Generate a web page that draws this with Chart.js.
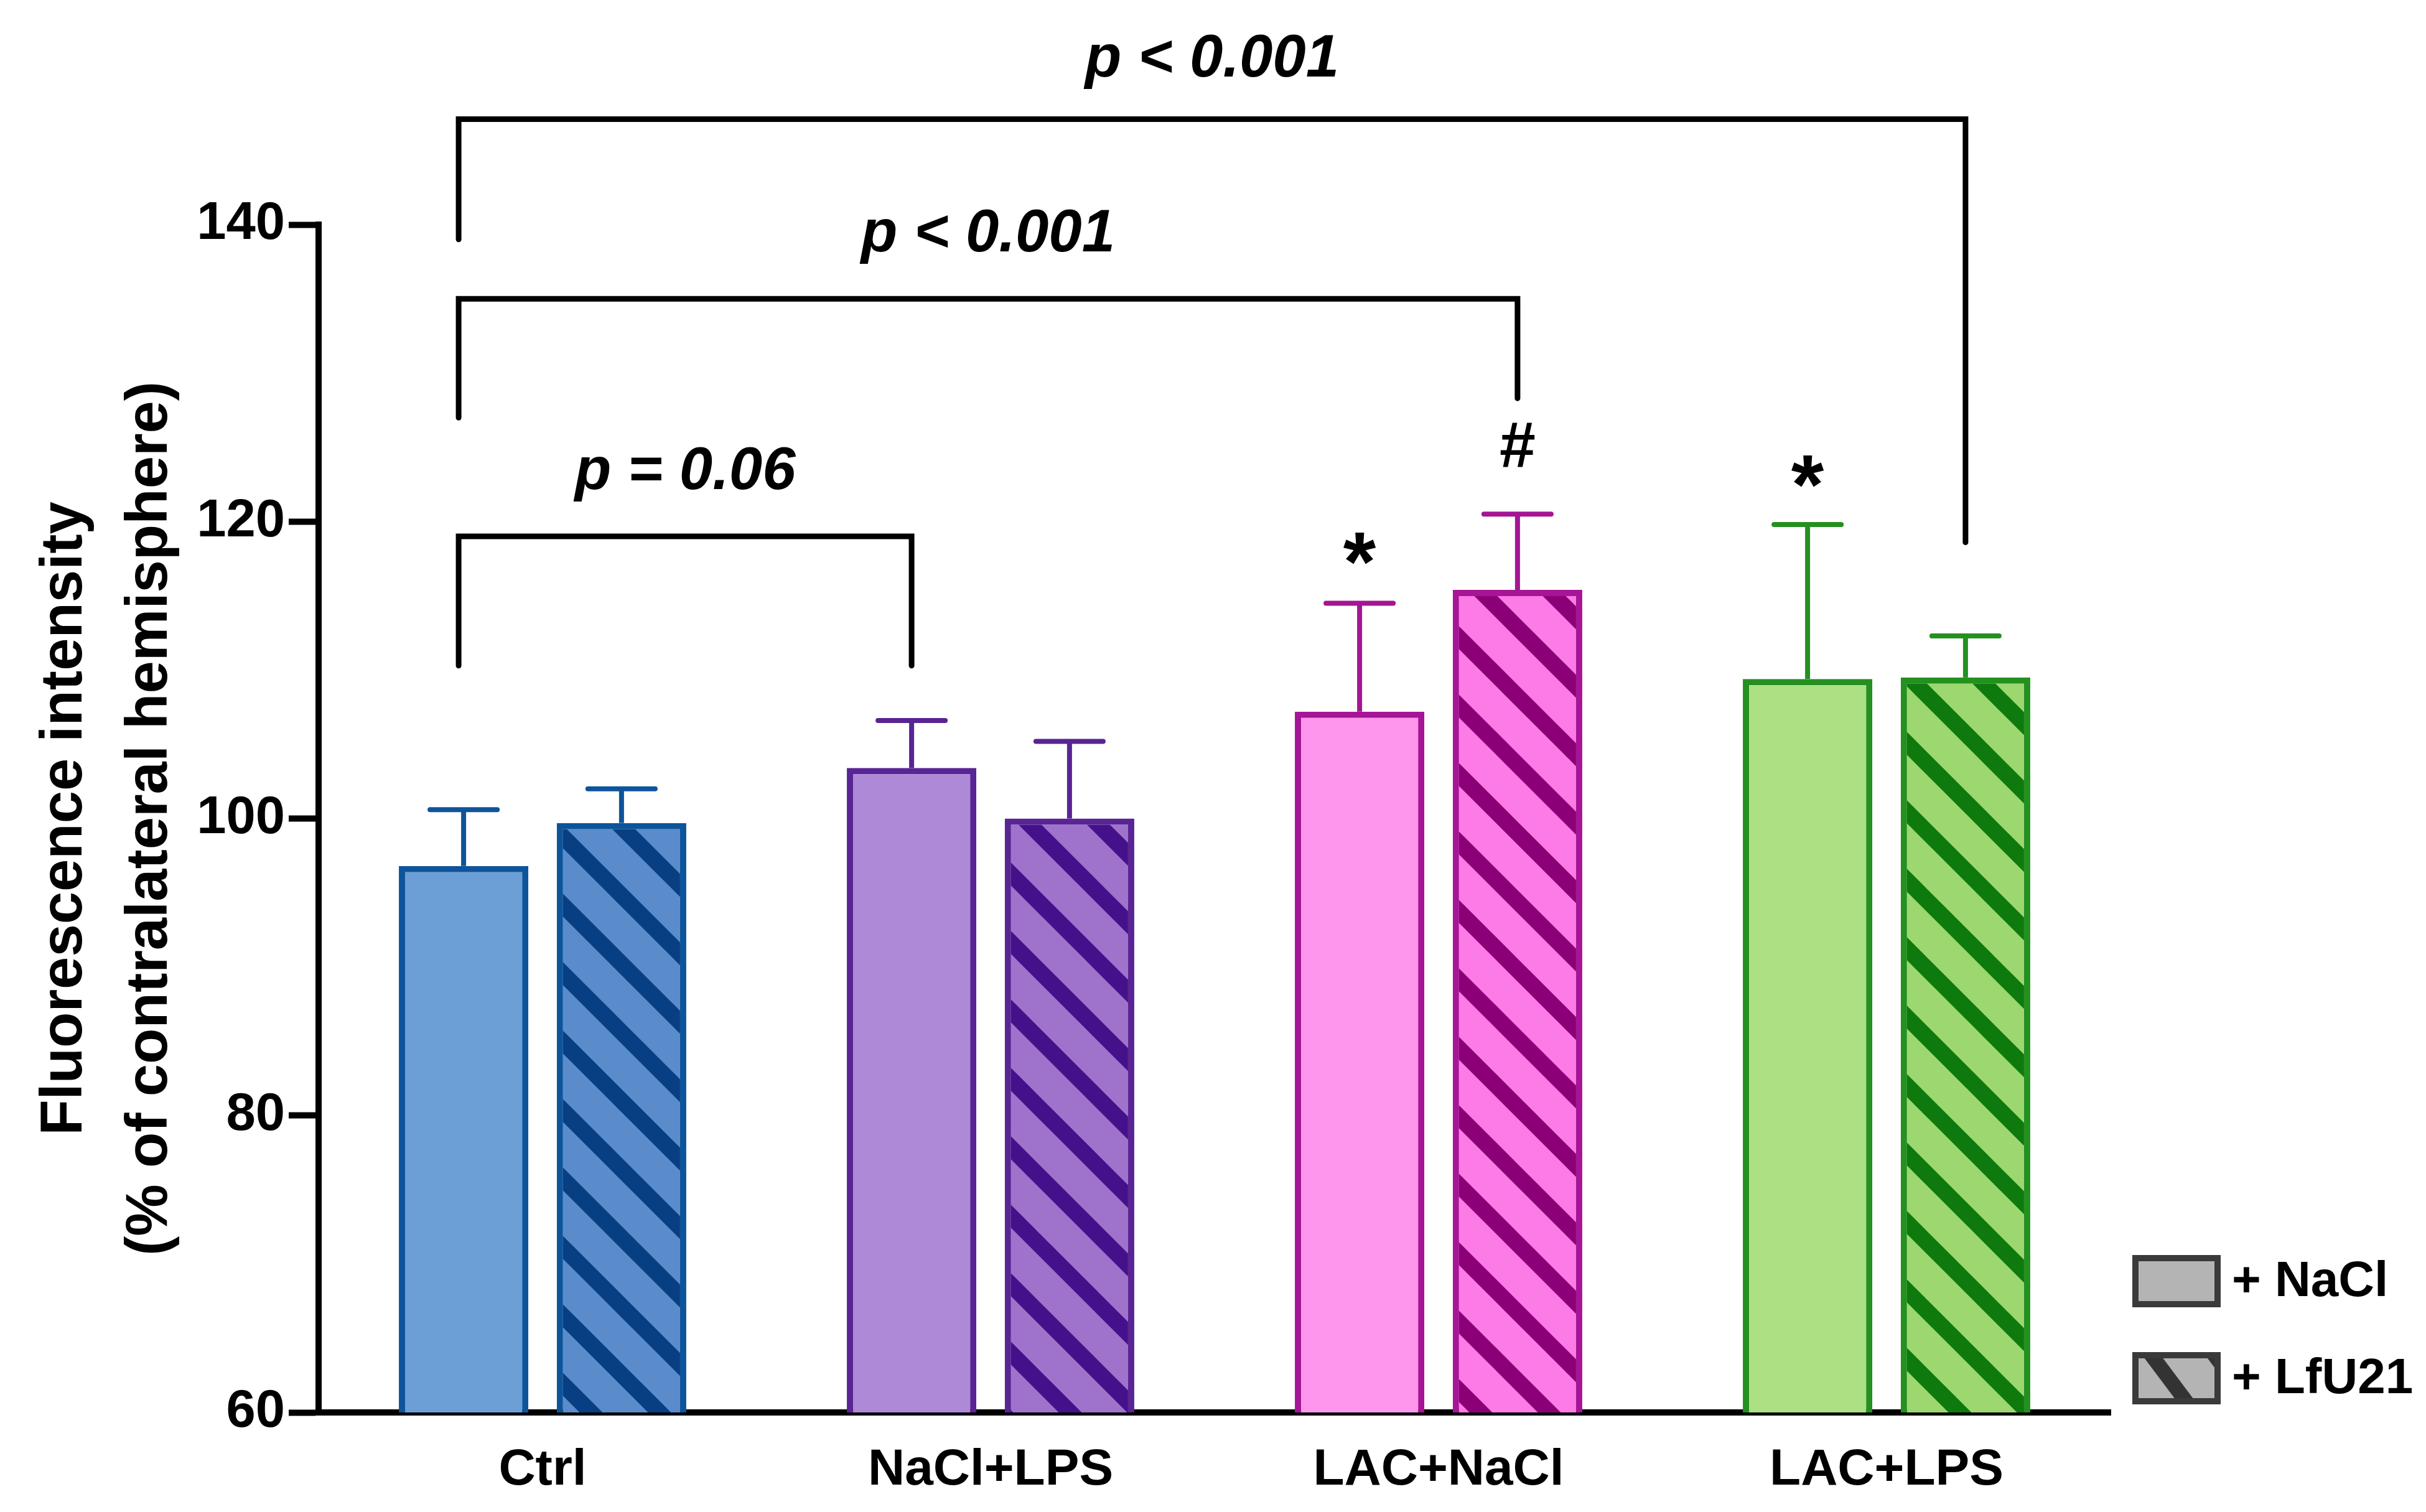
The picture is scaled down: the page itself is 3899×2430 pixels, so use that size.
<!DOCTYPE html>
<html>
<head>
<meta charset="utf-8">
<script src="https://cdn.jsdelivr.net/npm/chart.js@4.4.1/dist/chart.umd.min.js"></script>
<style>
  html, body { margin: 0; padding: 0; background: #ffffff; }
  canvas { display: block; }
</style>
</head>
<body>
<canvas id="chart" width="3899" height="2430"></canvas>
<script>
// ---------------- DATA ----------------
const categories = ['Ctrl', 'NaCl+LPS', 'LAC+NaCl', 'LAC+LPS'];
const seriesNames = ['+ NaCl', '+ LfU21'];
const naclMeans = [96.8, 103.4, 107.2, 109.4];
const naclSEM   = [3.8, 3.2, 7.3, 10.4];
const lfuMeans  = [99.7, 100.0, 115.4, 109.5];
const lfuSEM    = [2.3, 5.2, 5.1, 2.8];
const yTickValues = [60, 80, 100, 120, 140];
const yAxisTitle = ['Fluorescence intensity', '(% of contralateral hemisphere)'];

// significance brackets: [dataset, category] endpoints, heights in data units
const bracketLabels = ['p = 0.06', 'p < 0.001', 'p < 0.001'];
const bracketFrom   = [[0, 0], [0, 0], [0, 0]];
const bracketTo     = [[0, 1], [1, 2], [1, 3]];
const bracketTop    = [119.0, 135.0, 147.1];
const bracketLeftEnd  = [110.3, 127.0, 139.0];
const bracketRightEnd = [110.3, 128.3, 118.6];
const bracketLabelY = [123.3, 139.3, 151.1];

// markers above bars: symbol, dataset, category, height in data units
const markerSymbols = ['*', '#', '*'];
const markerDataset = [0, 1, 0];
const markerCategory = [2, 2, 3];
const markerY = [116.9, 124.9, 122.1];

// ---------------- STYLE ----------------
const fills      = ['#6b9fd5', '#ae89d7', '#fd96ec', '#ade083'];
const hatchFills = ['#5a8ccb', '#9f72cc', '#fd7be6', '#9cd86f'];
const stripes    = ['#073f82', '#45118a', '#8c0077', '#0e7a0e'];
const borders    = ['#0e549a', '#592494', '#a51595', '#23901f'];
const FONT = "'Liberation Sans', Arial, Helvetica, sans-serif";

function makeHatch(bg, fg, period, width) {
  const c = document.createElement('canvas');
  c.width = period; c.height = period;
  const g = c.getContext('2d');
  g.fillStyle = bg; g.fillRect(0, 0, period, period);
  g.strokeStyle = fg; g.lineWidth = width; g.lineCap = 'butt';
  for (let k = -1; k <= 1; k++) {
    g.beginPath();
    g.moveTo(-period, -period + k * period);
    g.lineTo(2 * period, 2 * period + k * period);
    g.stroke();
  }
  return g.createPattern(c, 'repeat');
}
const hatchPatterns = hatchFills.map((f, i) => makeHatch(f, stripes[i], 110, 26));
const legendHatch = makeHatch('#b4b4b4', '#333333', 135, 28);

// ---------------- PLUGINS ----------------
const errorBars = {
  id: 'errorBars',
  afterDatasetsDraw(chart) {
    const ctx = chart.ctx, y = chart.scales.y;
    const sems = [naclSEM, lfuSEM];
    chart.data.datasets.forEach((ds, di) => {
      const meta = chart.getDatasetMeta(di);
      meta.data.forEach((bar, j) => {
        const top = y.getPixelForValue(ds.data[j] + sems[di][j]);
        ctx.save();
        ctx.strokeStyle = borders[j];
        ctx.lineWidth = 8;
        ctx.lineCap = 'butt';
        ctx.beginPath();
        ctx.moveTo(bar.x, bar.y);
        ctx.lineTo(bar.x, top);
        ctx.stroke();
        ctx.lineCap = 'round';
        ctx.beginPath();
        ctx.moveTo(bar.x - 54, top);
        ctx.lineTo(bar.x + 54, top);
        ctx.stroke();
        ctx.restore();
      });
    });
  }
};

const annotations = {
  id: 'annotations',
  afterDraw(chart) {
    const ctx = chart.ctx, y = chart.scales.y;
    ctx.save();
    ctx.strokeStyle = '#000'; ctx.fillStyle = '#000';
    ctx.lineWidth = 9; ctx.lineJoin = 'miter'; ctx.lineCap = 'round';
    bracketLabels.forEach((lab, i) => {
      const a = chart.getDatasetMeta(bracketFrom[i][0]).data[bracketFrom[i][1]];
      const b = chart.getDatasetMeta(bracketTo[i][0]).data[bracketTo[i][1]];
      const yt = y.getPixelForValue(bracketTop[i]);
      ctx.beginPath();
      ctx.moveTo(a.x - 8, y.getPixelForValue(bracketLeftEnd[i]));
      ctx.lineTo(a.x - 8, yt);
      ctx.lineTo(b.x, yt);
      ctx.lineTo(b.x, y.getPixelForValue(bracketRightEnd[i]));
      ctx.stroke();
      ctx.font = 'italic bold 96px ' + FONT;
      ctx.textAlign = 'center'; ctx.textBaseline = 'middle';
      ctx.fillText(lab, (a.x - 8 + b.x) / 2, y.getPixelForValue(bracketLabelY[i]));
    });
    markerSymbols.forEach((s, i) => {
      const bar = chart.getDatasetMeta(markerDataset[i]).data[markerCategory[i]];
      ctx.font = (s === '*' ? 'bold 135px ' : 'bold 104px ') + FONT;
      ctx.textAlign = 'center'; ctx.textBaseline = 'middle';
      ctx.fillText(s, bar.x, y.getPixelForValue(markerY[i]));
    });
    // legend
    const lx = 3427, lw = 142, lh = 84, rows = [2017, 2173];
    rows.forEach((ry, i) => {
      ctx.save();
      ctx.translate(lx + 27, ry);
      ctx.scale(0.75, 1);
      ctx.fillStyle = i === 0 ? '#b4b4b4' : legendHatch;
      ctx.fillRect(-27 / 0.75, 0, lw / 0.75, lh);
      ctx.restore();
      ctx.strokeStyle = '#3a3a3a'; ctx.lineWidth = 10;
      ctx.strokeRect(lx + 5, ry + 5, lw - 10, lh - 10);
      ctx.fillStyle = '#000';
      ctx.font = 'bold 80px ' + FONT;
      ctx.textAlign = 'left'; ctx.textBaseline = 'middle';
      ctx.fillText(seriesNames[i], lx + lw + 18, ry + lh / 2 + 2);
    });
    ctx.restore();
  }
};

// ---------------- CHART ----------------
new Chart(document.getElementById('chart'), {
  type: 'bar',
  data: {
    labels: categories,
    datasets: [
      { label: seriesNames[0], data: naclMeans, backgroundColor: fills, borderColor: borders,
        borderWidth: 10, borderSkipped: 'bottom', categoryPercentage: 0.705, barPercentage: 0.82 },
      { label: seriesNames[1], data: lfuMeans, backgroundColor: hatchPatterns, borderColor: borders,
        borderWidth: 10, borderSkipped: 'bottom', categoryPercentage: 0.705, barPercentage: 0.82 }
    ]
  },
  options: {
    responsive: false,
    animation: false,
    devicePixelRatio: 1,
    layout: { padding: { top: 361, right: 507, bottom: 0, left: 0 } },
    plugins: { legend: { display: false }, tooltip: { enabled: false } },
    scales: {
      x: {
        type: 'category',
        grid: { display: true, drawOnChartArea: false, drawTicks: false },
        border: { display: true, color: '#000', width: 10 },
        ticks: { color: '#000', font: { family: FONT, size: 82, weight: 'bold' }, padding: 44 },
        afterFit(scale) { scale.height = 160; }
      },
      y: {
        min: 60, max: 140,
        afterBuildTicks(scale) { scale.ticks = yTickValues.map(v => ({ value: v })); },
        grid: { display: true, drawOnChartArea: false, drawTicks: true, tickLength: 48, tickWidth: 10, tickColor: '#000' },
        border: { display: true, color: '#000', width: 10 },
        ticks: { color: '#000', font: { family: FONT, size: 85, weight: 'bold' }, padding: 6 },
        title: { display: true, text: yAxisTitle, color: '#000',
                 font: { family: FONT, size: 94, weight: 'bold', lineHeight: 1.46 },
                 padding: { top: 36, bottom: 0 } },
        afterFit(scale) { scale.width = 512; }
      }
    }
  },
  plugins: [errorBars, annotations]
});
</script>
</body>
</html>
